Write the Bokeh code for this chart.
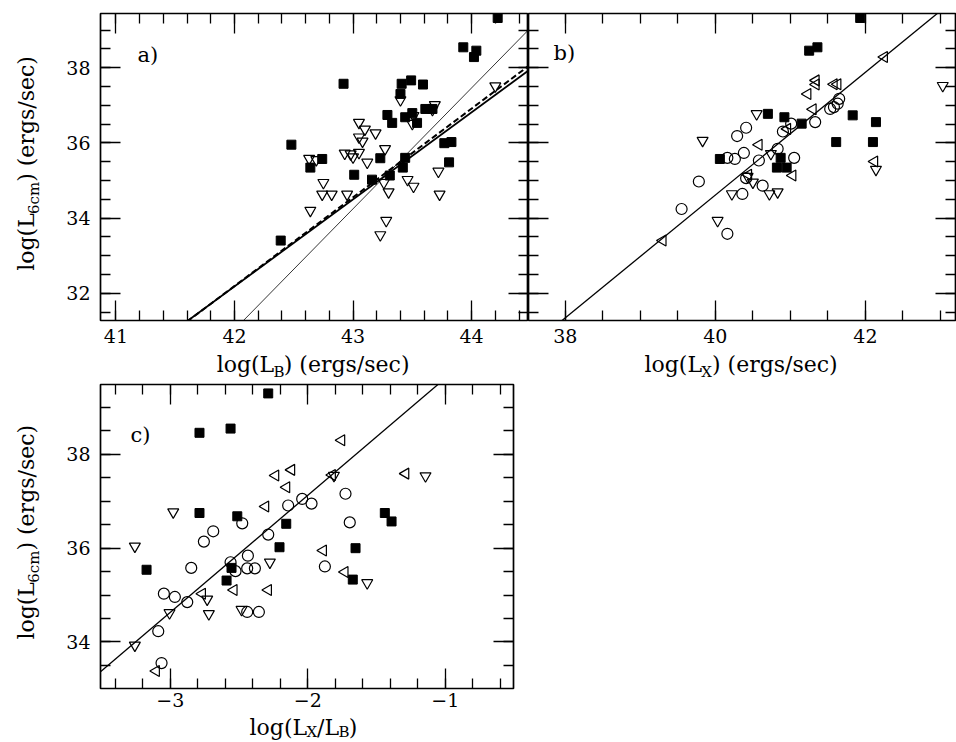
import math
from bokeh.plotting import figure
from bokeh.models import Range1d, LinearAxis, SingleIntervalTicker, Label
from bokeh.layouts import column, row
from bokeh.embed import file_html
from bokeh.resources import INLINE

# ---------------- data ----------------
# panel a : log L_6cm vs log L_B
A_SQ_X = [44.22, 43.93, 44.04, 44.02, 42.92, 43.41, 43.49, 43.59, 43.40, 43.29, 43.33, 43.44, 43.50,
          43.54, 43.61, 43.67, 42.48, 43.77, 43.83, 42.74, 43.23, 43.44, 43.81, 42.64, 43.01, 43.16,
          43.42, 43.31, 42.39]
A_SQ_Y = [39.32, 38.54, 38.45, 38.28, 37.57, 37.57, 37.66, 37.55, 37.30, 36.74, 36.53, 36.68, 36.79,
          36.53, 36.90, 36.90, 35.95, 35.99, 36.02, 35.57, 35.59, 35.60, 35.48, 35.34, 35.15, 35.02,
          35.34, 35.13, 33.40]
A_TRI_X = [44.20, 43.40, 43.69, 43.67, 43.51, 43.50, 43.05, 43.10, 43.19, 43.05, 43.08, 43.27, 42.63,
           42.69, 42.93, 42.98, 43.05, 43.00, 43.12, 42.75, 42.74, 42.82, 42.95, 42.64, 43.26, 43.30,
           43.46, 43.51, 43.72, 43.73, 43.28, 43.23]
A_TRI_Y = [37.51, 37.14, 37.01, 36.88, 36.72, 36.51, 36.54, 36.36, 36.26, 36.15, 36.04, 35.84, 35.58,
           35.55, 35.72, 35.70, 35.74, 35.62, 35.48, 34.94, 34.63, 34.63, 34.63, 34.20, 34.94, 34.69,
           35.02, 34.84, 35.24, 34.63, 33.93, 33.55]
A_FIT_SLOPE = [2.315, 2.36, 3.215]
A_FIT_INTERCEPT = [-65.05, -66.93, -104.0]

# panel b : log L_6cm vs log L_X
B_SQ_X = [41.93, 41.25, 41.36, 40.70, 40.92, 41.15, 41.83, 42.14, 41.61, 42.10, 40.06, 40.87, 40.82, 40.95]
B_SQ_Y = [39.32, 38.45, 38.54, 36.77, 36.68, 36.51, 36.73, 36.55, 36.02, 36.02, 35.57, 35.60, 35.34, 35.34]
B_CIR_X = [40.41, 40.29, 41.01, 40.90, 41.33, 41.65, 41.63, 41.58, 41.53, 40.83, 40.38, 40.58, 41.05,
           40.16, 40.26, 39.78, 39.55, 40.16, 40.36, 40.41, 40.63]
B_CIR_Y = [36.40, 36.18, 36.51, 36.30, 36.55, 37.17, 37.04, 36.95, 36.90, 35.84, 35.73, 35.53, 35.60,
           35.60, 35.57, 34.97, 34.24, 33.58, 34.64, 35.06, 34.86]
B_TRI_X = [40.55, 43.03, 39.83, 42.14, 40.03, 40.22, 40.72, 40.83, 40.74, 40.43, 40.50]
B_TRI_Y = [36.77, 37.52, 36.06, 35.29, 33.93, 34.64, 34.64, 34.69, 35.71, 35.10, 34.95]
B_LT_X = [42.25, 41.34, 41.34, 41.23, 41.58, 41.63, 41.30, 40.96, 40.58, 41.03, 40.44, 42.12, 39.30]
B_LT_Y = [38.28, 37.66, 37.55, 37.30, 37.56, 37.56, 36.89, 36.37, 35.95, 35.13, 35.15, 35.50, 33.40]
B_FIT_SLOPE = [1.633]
B_FIT_INTERCEPT = [-30.71]

# panel c : log L_6cm vs log(L_X/L_B)
C_SQ_X = [-2.288, -2.788, -2.562, -2.788, -2.513, -2.157, -2.206, -3.173, -2.555, -2.591, -1.44,
          -1.391, -1.653, -1.673]
C_SQ_Y = [39.30, 38.46, 38.55, 36.75, 36.68, 36.52, 36.02, 35.54, 35.58, 35.31, 36.75, 36.57, 36.00, 35.33]
C_CIR_X = [-2.041, -1.973, -2.143, -2.477, -2.288, -2.688, -2.756, -2.848, -2.436, -2.562, -2.526,
           -2.441, -2.385, -3.047, -2.967, -2.877, -2.441, -2.356, -3.088, -3.064, -1.726, -1.695, -1.876]
C_CIR_Y = [37.05, 36.95, 36.91, 36.53, 36.29, 36.36, 36.14, 35.58, 35.84, 35.70, 35.51, 35.57, 35.57,
           35.03, 34.96, 34.85, 34.64, 34.64, 34.23, 33.55, 37.16, 36.55, 35.61]
C_TRI_X = [-2.979, -3.258, -2.276, -2.732, -2.720, -3.006, -3.258, -2.482, -1.144, -1.568, -1.81]
C_TRI_Y = [36.77, 36.04, 35.70, 34.91, 34.60, 34.62, 33.93, 34.69, 37.54, 35.26, 37.55]
C_LT_X = [-2.235, -2.119, -2.155, -2.308, -2.768, -2.538, -2.288, -3.103, -1.888, -1.755, -1.823,
          -1.289, -1.731]
C_LT_Y = [37.55, 37.67, 37.30, 36.89, 35.03, 35.11, 35.11, 33.38, 35.95, 38.30, 37.56, 37.59, 35.49]
C_FIT_SLOPE = [2.496]
C_FIT_INTERCEPT = [42.12]

PANEL_TAGS = ["a)", "b)", "c)"]
X_TITLES = [
    [("log(L", 22, 0), ("B", 15, 6), (")  (ergs/sec)", 22, 0)],
    [("log(L", 22, 0), ("X", 15, 6), (")  (ergs/sec)", 22, 0)],
    [("log(L", 22, 0), ("X", 15, 3), ("/L", 22, 0), ("B", 15, 3), (")", 22, 0)],
]
Y_TITLE = [("log(L", 22, 0), ("6cm", 15, 6), (")  (ergs/sec)", 22, 0)]

# ---------------- style / layout ----------------
SERIF = "DejaVu Serif"
CW = {'l': 0.320, 'o': 0.602, 'g': 0.635, '(': 0.390, ')': 0.390, 'L': 0.637, ' ': 0.318,
      'e': 0.592, 'r': 0.478, 's': 0.513, '/': 0.337, 'c': 0.560, 'm': 0.948, '6': 0.636,
      'B': 0.686, 'X': 0.712}
DESC = 0.236   # renderer places 'alphabetic' text about one descent lower


def text_w(t, size):
    return sum(CW.get(ch, 0.6) for ch in t) * size


YSTRIP = 45
GEOM = {
    "a": dict(left=55, top=13, fw=428, fh=307, right=0, bottom=32,
              x=(40.87, 44.48), y=(31.274, 39.439)),
    "b": dict(left=0, top=13, fw=427, fh=307, right=1, bottom=32,
              x=(37.51, 43.20), y=(31.274, 39.439)),
    "c": dict(left=55, top=4, fw=413, fh=304, right=10, bottom=27,
              x=(-3.508, -0.504), y=(33.008, 39.49)),
}


def style_axis(ax, show_labels=True, major=20, minor=10):
    ax.axis_line_color = None
    ax.major_tick_in = major
    ax.major_tick_out = 0
    ax.minor_tick_in = minor
    ax.minor_tick_out = 0
    ax.major_tick_line_width = 1.3
    ax.minor_tick_line_width = 1.3
    ax.major_tick_line_color = "black"
    ax.minor_tick_line_color = "black"
    ax.major_label_text_font = SERIF
    ax.major_label_text_font_size = "19px"
    ax.major_label_text_color = "black"
    ax.axis_label = None
    if not show_labels:
        ax.major_label_text_font_size = "0px"
        ax.major_label_text_alpha = 0
        ax.major_label_standoff = 0


def make_fig(g, xint, xminor, yint, yminor, left_labels=True, xstand=8):
    p = figure(width=g["left"] + g["fw"] + g["right"], height=g["top"] + g["fh"] + g["bottom"],
               x_range=Range1d(*g["x"]), y_range=Range1d(*g["y"]),
               output_backend="svg", toolbar_location=None,
               x_axis_location="below", y_axis_location="left" if left_labels else None,
               min_border_left=g["left"], min_border_right=g["right"],
               min_border_top=g["top"], min_border_bottom=g["bottom"])
    p.grid.visible = False
    p.outline_line_color = "black"
    p.outline_line_width = 1.7
    p.background_fill_color = "white"
    p.border_fill_color = "white"
    p.xaxis.ticker = SingleIntervalTicker(interval=xint, num_minor_ticks=xminor)
    style_axis(p.xaxis[0])
    p.xaxis[0].major_label_standoff = xstand
    if left_labels:
        p.yaxis.ticker = SingleIntervalTicker(interval=yint, num_minor_ticks=yminor)
        style_axis(p.yaxis[0])
        p.yaxis[0].major_label_standoff = 10
    else:
        la = LinearAxis(ticker=SingleIntervalTicker(interval=yint, num_minor_ticks=yminor),
                        fixed_location=g["x"][0])
        style_axis(la, False)
        p.add_layout(la, "left")
    ra = LinearAxis(ticker=SingleIntervalTicker(interval=yint, num_minor_ticks=yminor),
                    fixed_location=g["x"][1])
    style_axis(ra, False)
    p.add_layout(ra, "right")
    ta = LinearAxis(ticker=SingleIntervalTicker(interval=xint, num_minor_ticks=xminor),
                    fixed_location=g["y"][1])
    style_axis(ta, False)
    p.add_layout(ta, "above")
    return p


def strip(w, h):
    # a text-only figure whose data coordinates are its own pixels (y downward)
    s = figure(width=w, height=h, x_range=Range1d(0, w), y_range=Range1d(h, 0),
               output_backend="svg", toolbar_location=None,
               x_axis_location=None, y_axis_location=None,
               min_border_left=0, min_border_right=0, min_border_top=0, min_border_bottom=0)
    s.grid.visible = False
    s.outline_line_color = None
    s.background_fill_color = "white"
    s.border_fill_color = "white"
    return s


def compose(s, parts, cx, base, rotated=False):
    # cx: centre along the text direction; base: wanted baseline (pixels in strip)
    widths = [text_w(t, sz) for t, sz, _ in parts]
    pos = -sum(widths) / 2.0
    for (t, sz, shift), w in zip(parts, widths):
        adj = shift - DESC * sz
        if rotated:
            x, y = base, cx
            xo, yo, ang = adj, pos, math.pi / 2
        else:
            x, y = cx, base
            xo, yo, ang = pos, -adj, 0
        s.add_layout(Label(x=x, y=y, x_offset=xo, y_offset=yo, text=t, angle=ang,
                           text_font=SERIF, text_font_size=f"{sz}px", text_color="black",
                           text_align="left", text_baseline="alphabetic"))
        pos += w


def px2data(g, px, py):
    x0, x1 = g["x"]
    y0, y1 = g["y"]
    fx = x0 + (px - g["left"]) * (x1 - x0) / g["fw"]
    fy = y1 - (py - g["top"]) * (y1 - y0) / g["fh"]
    return fx, fy


def tag(p, g, text, px, py):
    x, y = px2data(g, px, py - DESC * 21)
    p.add_layout(Label(x=x, y=y, text=text, text_font=SERIF, text_font_size="21px",
                       text_color="black", text_align="left", text_baseline="alphabetic"))


def fit_lines(p, g, slopes, intercepts, styles):
    x0, x1 = g["x"]
    for m, b, st in zip(slopes, intercepts, styles):
        xs = [x0, x1]
        ys = [m * xx + b for xx in xs]
        p.line(xs, ys, line_color="black", **st)


def sq(p, xs, ys):
    p.scatter(xs, ys, marker="square", size=9, fill_color="black", line_color="black", line_width=1)


def dtri(p, xs, ys):
    p.scatter(xs, ys, marker="inverted_triangle", size=11, fill_color=None, line_color="black",
              line_width=1.2)


def ltri(p, xs, ys):
    p.scatter(xs, ys, marker="triangle", size=11, angle=math.pi / 2, fill_color=None,
              line_color="black", line_width=1.2)


def circ(p, xs, ys):
    p.scatter(xs, ys, marker="circle", size=11, fill_color=None, line_color="black", line_width=1.2)


# ---------------- panel a ----------------
ga = GEOM["a"]
pa = make_fig(ga, 1, 5, 2, 4, True, xstand=8)
fit_lines(pa, ga, A_FIT_SLOPE, A_FIT_INTERCEPT,
          [dict(line_width=1.8), dict(line_width=2.0, line_dash="6 3"), dict(line_width=0.8)])
sq(pa, A_SQ_X, A_SQ_Y)
dtri(pa, A_TRI_X, A_TRI_Y)
tag(pa, ga, PANEL_TAGS[0], 137 - YSTRIP, 59)

# ---------------- panel b ----------------
gb = GEOM["b"]
pb = make_fig(gb, 2, 4, 2, 4, False, xstand=8)
fit_lines(pb, gb, B_FIT_SLOPE, B_FIT_INTERCEPT, [dict(line_width=1.3)])
sq(pb, B_SQ_X, B_SQ_Y)
circ(pb, B_CIR_X, B_CIR_Y)
dtri(pb, B_TRI_X, B_TRI_Y)
ltri(pb, B_LT_X, B_LT_Y)
tag(pb, gb, PANEL_TAGS[1], 553 - 528, 57)

# ---------------- panel c ----------------
gc = GEOM["c"]
pc = make_fig(gc, 1, 5, 2, 4, True, xstand=4)
pc.xaxis[0].major_label_overrides = {-3: "\u22123", -2: "\u22122", -1: "\u22121"}
fit_lines(pc, gc, C_FIT_SLOPE, C_FIT_INTERCEPT, [dict(line_width=1.3)])
sq(pc, C_SQ_X, C_SQ_Y)
circ(pc, C_CIR_X, C_CIR_Y)
dtri(pc, C_TRI_X, C_TRI_Y)
ltri(pc, C_LT_X, C_LT_Y)
tag(pc, gc, PANEL_TAGS[2], 130 - YSTRIP, 439 - 384 + 4)

# ---------------- title strips ----------------
row1_h = ga["top"] + ga["fh"] + ga["bottom"]          # 352
ya = strip(YSTRIP, row1_h)
compose(ya, Y_TITLE, 168, 31, rotated=True)

xab = strip(956, 380 - row1_h)                        # 28 tall
compose(xab, X_TITLES[0], 316, 369 - row1_h)
compose(xab, X_TITLES[1], 744, 369 - row1_h)

row3_h = gc["top"] + gc["fh"] + gc["bottom"]          # 335
yc = strip(YSTRIP, row3_h)
compose(yc, Y_TITLE, 539 - 380, 31, rotated=True)

xc_h = 742 - 380 - row3_h                             # 27 tall
xc = strip(600, xc_h)
compose(xc, X_TITLES[2], 303, 732 - 380 - row3_h)

layout = column(row(ya, pa, pb), xab, row(yc, pc), xc)
open("out.html", "w").write(file_html(layout, INLINE))
